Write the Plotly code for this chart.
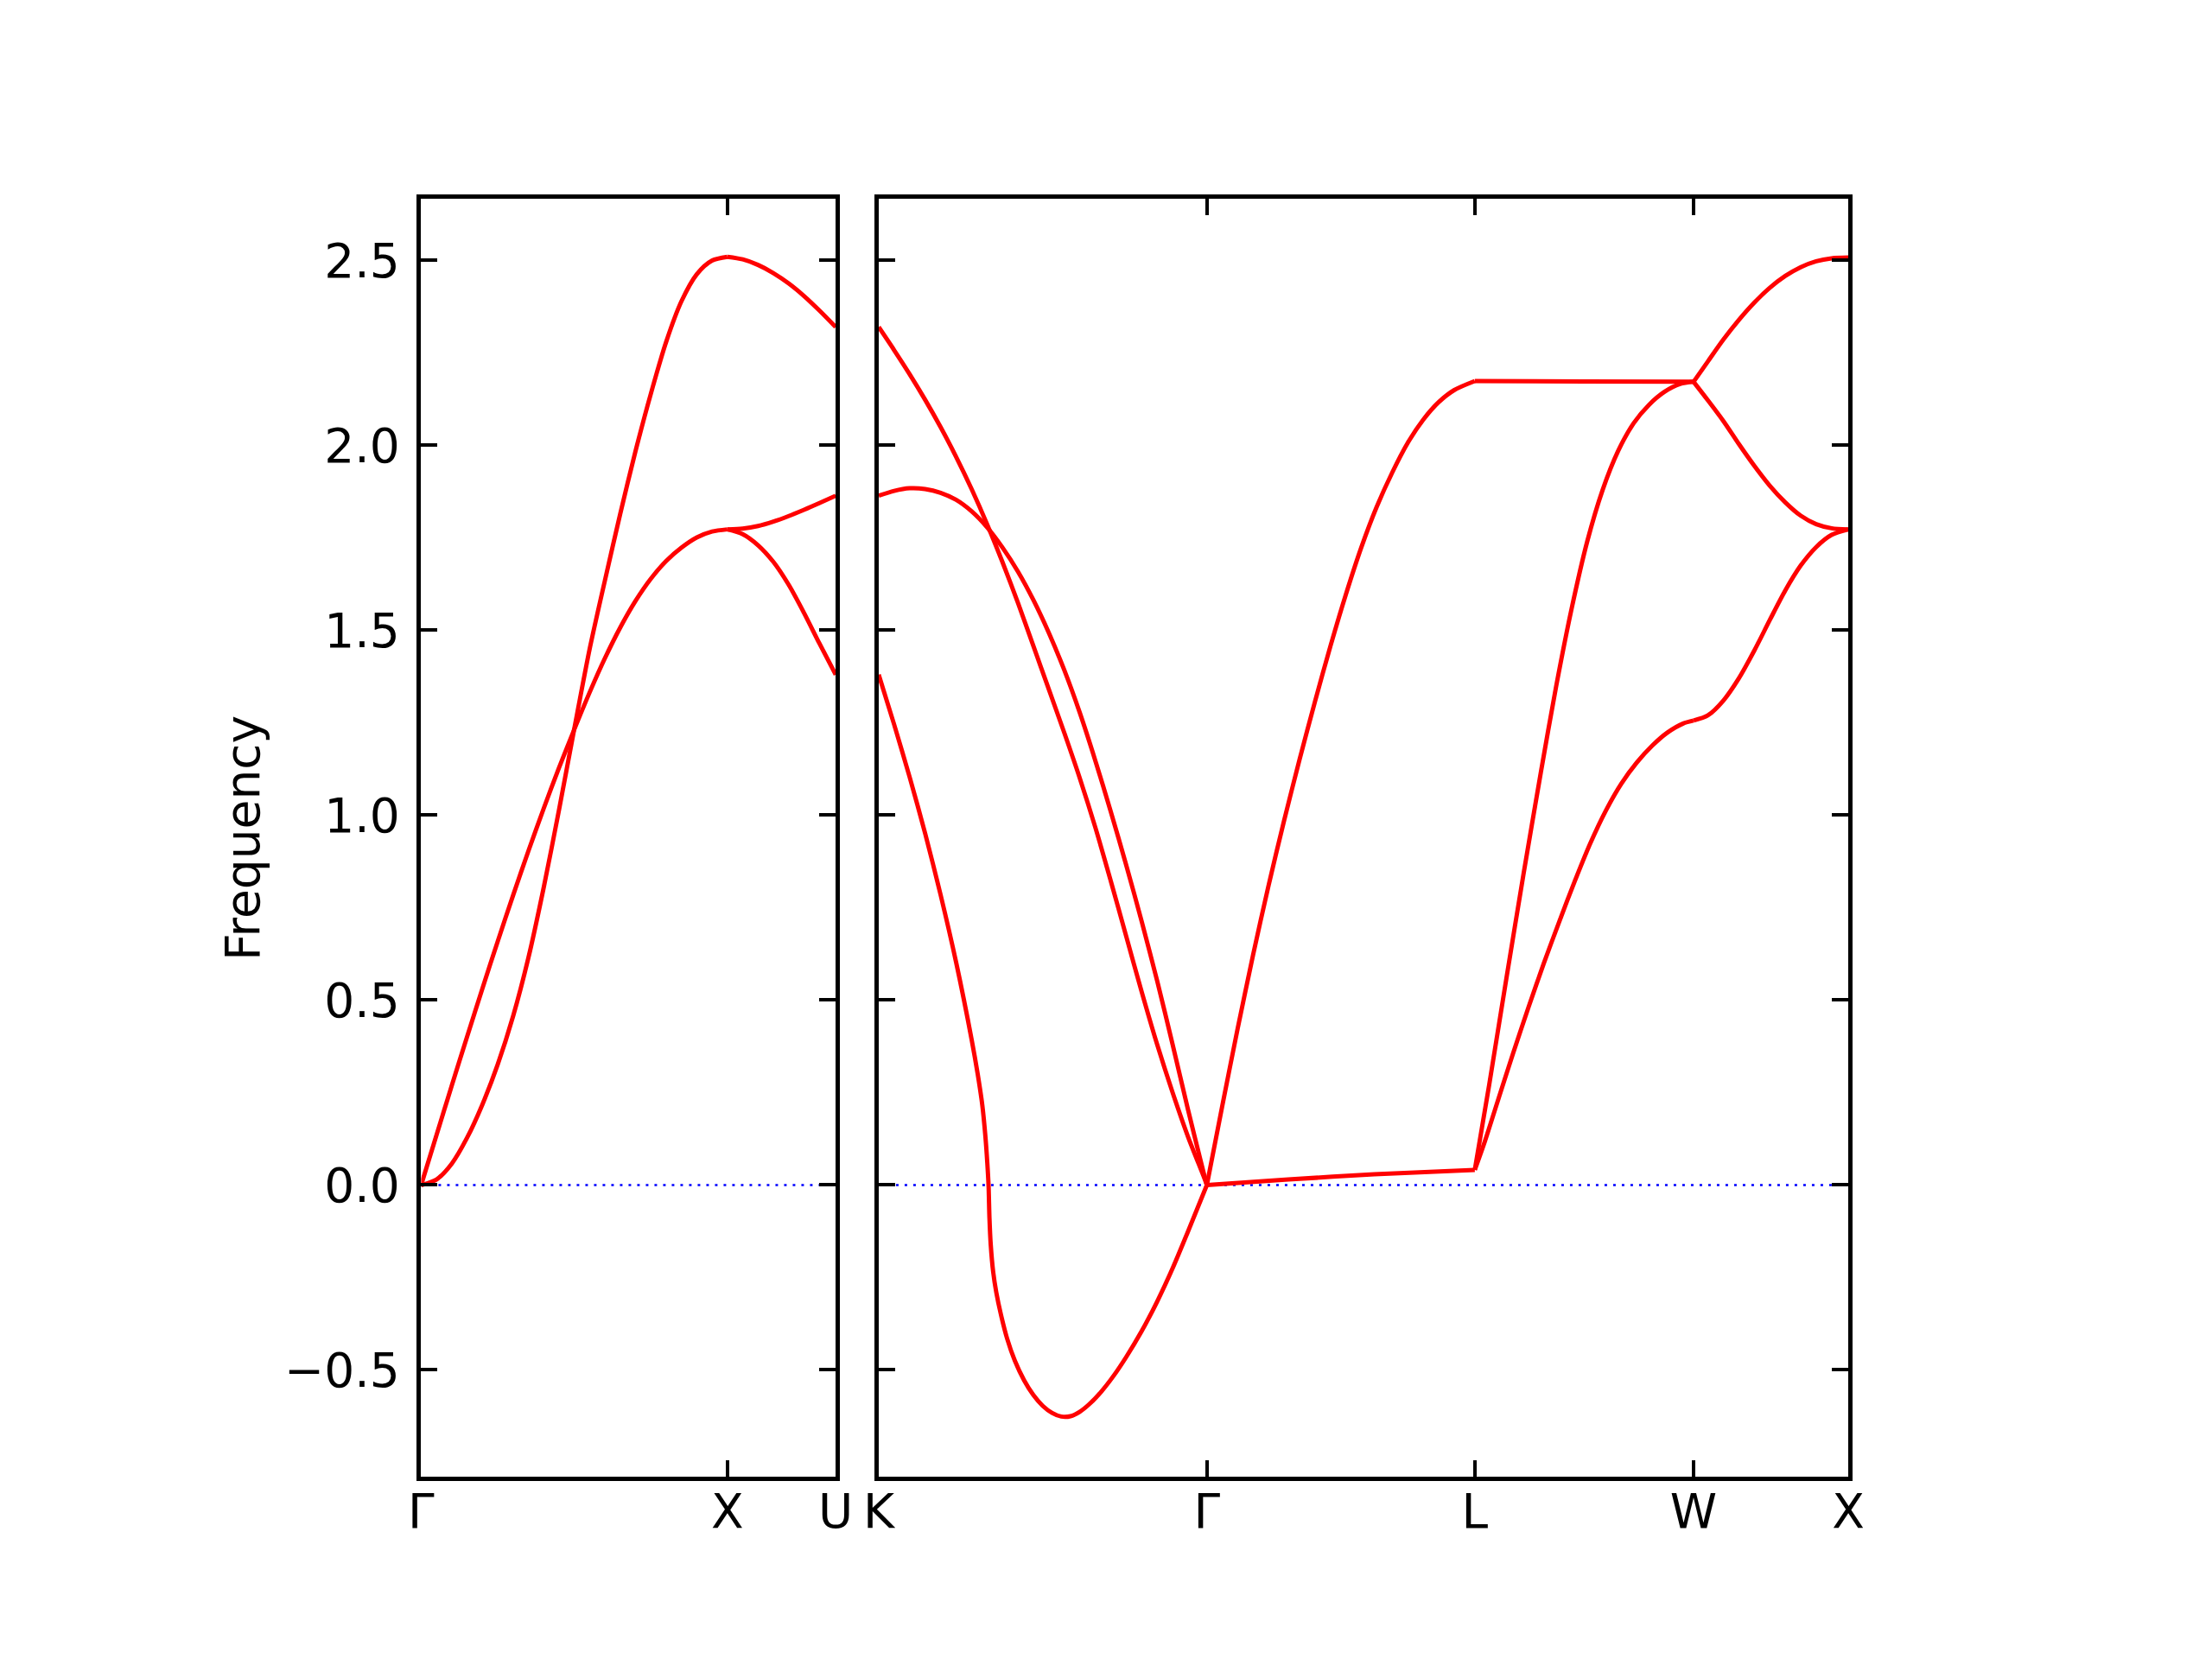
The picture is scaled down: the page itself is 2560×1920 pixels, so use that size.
import plotly.graph_objects as go

# ---------------- high-symmetry positions (path length) ----------------
left_ticks_k = [0.0, 1.0, 1.35355]
left_ticks_lbl = ["Γ", "X", "U"]
right_ticks_k = [0.0, 1.06066, 1.92669, 2.63380, 3.13380]
right_ticks_lbl = ["K", "Γ", "L", "W", "X"]

y_ticks = [-0.5, 0.0, 0.5, 1.0, 1.5, 2.0, 2.5]
y_tick_lbl = ["−0.5", "0.0", "0.5", "1.0", "1.5", "2.0", "2.5"]

# ---------------- left panel: Γ - X - U ----------------
gx_k = [0, 0.05, 0.10, 0.15, 0.20, 0.25, 0.30, 0.35, 0.40, 0.45, 0.50, 0.55, 0.60, 0.65, 0.70, 0.75, 0.80, 0.85, 0.90, 0.95, 1.0]
gx_long_f = [0, 0.015, 0.058, 0.128, 0.218, 0.326, 0.456, 0.614, 0.804, 1.014, 1.234, 1.449, 1.635, 1.815, 1.985, 2.14, 2.28, 2.39, 2.463, 2.50, 2.51]
gx_trans_f = [0, 0.135, 0.269, 0.4015, 0.5315, 0.659, 0.783, 0.903, 1.018, 1.128, 1.232, 1.332, 1.4245, 1.5075, 1.5795, 1.6395, 1.6875, 1.7235, 1.751, 1.767, 1.773]

xu_k = [1.0, 1.05, 1.10, 1.15, 1.20, 1.25, 1.30, 1.35355]
xu_top_f = [2.510, 2.503, 2.488, 2.466, 2.438, 2.404, 2.365, 2.32]
xu_mid_f = [1.773, 1.775, 1.782, 1.794, 1.809, 1.826, 1.844, 1.864]
xu_low_f = [1.773, 1.760, 1.730, 1.685, 1.623, 1.547, 1.465, 1.38]

# ---------------- right panel: K - Γ - L - W - X ----------------
kg_k = [0, 0.05, 0.10, 0.15, 0.20, 0.25, 0.30, 0.35, 0.40, 0.45, 0.50, 0.55, 0.60, 0.65, 0.70, 0.75, 0.80, 0.85, 0.90, 0.95, 1.0, 1.05, 1.06066]
kg_top_f = [2.32, 2.2575, 2.1925, 2.1235, 2.0495, 1.9695, 1.8825, 1.7875, 1.6845, 1.5745, 1.4575, 1.34, 1.2225, 1.10, 0.9675, 0.8225, 0.6725, 0.5225, 0.38, 0.25, 0.13, 0.024, 0]
kg_mid_f = [1.864, 1.877, 1.884, 1.882, 1.872, 1.853, 1.822, 1.779, 1.724, 1.659, 1.582, 1.493, 1.392, 1.277, 1.148, 1.01, 0.865, 0.713, 0.552, 0.38, 0.203, 0.034, 0]

kg_low_k = [0, 0.05, 0.10, 0.15, 0.20, 0.25, 0.30, 0.32, 0.335, 0.345, 0.351, 0.355, 0.358, 0.362, 0.37, 0.38, 0.395, 0.415, 0.44, 0.47, 0.50, 0.53, 0.56, 0.59, 0.62, 0.65, 0.68, 0.72, 0.76, 0.80, 0.85, 0.90, 0.95, 1.0, 1.06066]
kg_low_f = [1.38, 1.245, 1.103, 0.951, 0.785, 0.603, 0.395, 0.30, 0.215, 0.13, 0.06, 0.0, -0.09, -0.16, -0.235, -0.29, -0.35, -0.415, -0.475, -0.528, -0.568, -0.597, -0.616, -0.626, -0.625, -0.613, -0.593, -0.558, -0.515, -0.465, -0.395, -0.315, -0.225, -0.125, 0]

gl_k = [1.06066, 1.11, 1.16, 1.21, 1.26, 1.31, 1.36, 1.41, 1.46, 1.51, 1.56, 1.61, 1.66, 1.71, 1.76, 1.81, 1.86, 1.92669]
gl_long_f = [0, 0.212, 0.422, 0.622, 0.8095, 0.9845, 1.1495, 1.307, 1.457, 1.597, 1.7245, 1.8345, 1.927, 2.007, 2.0695, 2.117, 2.1495, 2.174]

gl_trans_k = [1.06066, 1.324, 1.602, 1.92669]
gl_trans_f = [0, 0.015, 0.029, 0.041]

lw_flat_k = [1.92669, 2.28, 2.63380]
lw_flat_f = [2.174, 2.173, 2.172]

lw_steep_k = [1.92669, 1.973, 2.029, 2.084, 2.14, 2.19, 2.24, 2.29, 2.34, 2.39, 2.44, 2.49, 2.54, 2.59, 2.63380]
lw_steep_f = [0.041, 0.27, 0.56, 0.84, 1.115, 1.35, 1.56, 1.74, 1.88, 1.985, 2.06, 2.11, 2.145, 2.166, 2.172]

lw_low_k = [1.92669, 1.96, 2.0, 2.05, 2.10, 2.15, 2.20, 2.25, 2.30, 2.35, 2.40, 2.45, 2.50, 2.55, 2.60, 2.63380]
lw_low_f = [0.041, 0.12, 0.225, 0.355, 0.48, 0.60, 0.713, 0.822, 0.924, 1.012, 1.085, 1.142, 1.188, 1.224, 1.248, 1.256]

wx_k = [2.63380, 2.68, 2.73, 2.78, 2.83, 2.88, 2.93, 2.98, 3.03, 3.08, 3.13380]
wx_top_f = [2.172, 2.227, 2.286, 2.339, 2.386, 2.426, 2.458, 2.482, 2.498, 2.506, 2.508]
wx_mid_f = [2.172, 2.122, 2.066, 2.004, 1.945, 1.891, 1.846, 1.81, 1.787, 1.776, 1.773]
wx_low_f = [1.256, 1.27, 1.31, 1.37, 1.445, 1.5275, 1.6075, 1.675, 1.725, 1.758, 1.773]

left_branches = [
    (gx_k, gx_long_f), (gx_k, gx_trans_f),
    (xu_k, xu_top_f), (xu_k, xu_mid_f), (xu_k, xu_low_f),
]
right_branches = [
    (kg_k, kg_top_f), (kg_k, kg_mid_f), (kg_low_k, kg_low_f),
    (gl_k, gl_long_f), (gl_trans_k, gl_trans_f),
    (lw_flat_k, lw_flat_f), (lw_steep_k, lw_steep_f), (lw_low_k, lw_low_f),
    (wx_k, wx_top_f), (wx_k, wx_mid_f), (wx_k, wx_low_f),
]

W, H = 2560, 1920
FONT = "DejaVu Sans, Liberation Sans, sans-serif"
RED = "#ff0000"
BLUE = "#0000ff"

fig = go.Figure()

# zero reference lines (blue dotted)
fig.add_trace(go.Scatter(x=[left_ticks_k[0], left_ticks_k[-1]], y=[0, 0], mode="lines",
                         line=dict(color=BLUE, width=2.6, dash="3px,7px"),
                         xaxis="x", yaxis="y", showlegend=False, hoverinfo="skip"))
fig.add_trace(go.Scatter(x=[right_ticks_k[0], right_ticks_k[-1]], y=[0, 0], mode="lines",
                         line=dict(color=BLUE, width=2.6, dash="3px,7px"),
                         xaxis="x2", yaxis="y2", showlegend=False, hoverinfo="skip"))

for k, f in left_branches:
    fig.add_trace(go.Scatter(x=k, y=f, mode="lines",
                             line=dict(color=RED, width=5, shape="spline", smoothing=0.8),
                             xaxis="x", yaxis="y", showlegend=False))
for k, f in right_branches:
    fig.add_trace(go.Scatter(x=k, y=f, mode="lines",
                             line=dict(color=RED, width=5, shape="spline", smoothing=0.8),
                             xaxis="x2", yaxis="y2", showlegend=False))

y_range = [-0.7886, 2.667]
dom_y = [1 - 1709 / H, 1 - 230 / H]

axis_common = dict(
    showgrid=False, zeroline=False, showline=True, linecolor="black", linewidth=4.5,
    ticks="inside", ticklen=19, tickwidth=4.4, tickcolor="black", mirror="ticks",
    tickfont=dict(family=FONT, size=55, color="black"),
)

fig.update_layout(
    width=W, height=H,
    margin=dict(l=0, r=0, t=0, b=0),
    paper_bgcolor="white", plot_bgcolor="white",
    showlegend=False,
    xaxis=dict(domain=[476.5 / W, 963.5 / W], range=[left_ticks_k[0], left_ticks_k[-1]],
               tickmode="array", tickvals=left_ticks_k, ticktext=left_ticks_lbl,
               anchor="y", ticklabelstandoff=-12, **axis_common),
    xaxis2=dict(domain=[1014 / W, 2153 / W], range=[right_ticks_k[0], right_ticks_k[-1]],
                tickmode="array", tickvals=right_ticks_k, ticktext=right_ticks_lbl,
                anchor="y2", ticklabelstandoff=-12, **axis_common),
    yaxis=dict(domain=dom_y, range=y_range, tickmode="array", tickvals=y_ticks, ticktext=y_tick_lbl,
               anchor="x", ticklabelstandoff=9, **axis_common),
    yaxis2=dict(domain=dom_y, range=y_range, tickmode="array", tickvals=y_ticks,
                showticklabels=False, anchor="x2", **axis_common),
    annotations=[dict(text="Frequency", x=267 / W, y=(1 - 970 / H), xref="paper", yref="paper",
                      textangle=-90, showarrow=False, xanchor="center", yanchor="middle",
                      font=dict(family=FONT, size=55, color="black"))],
)

fig.write_html("out.html", config={"displayModeBar": False},
               post_script="document.body.style.margin='0px';document.body.style.overflow='hidden';")
